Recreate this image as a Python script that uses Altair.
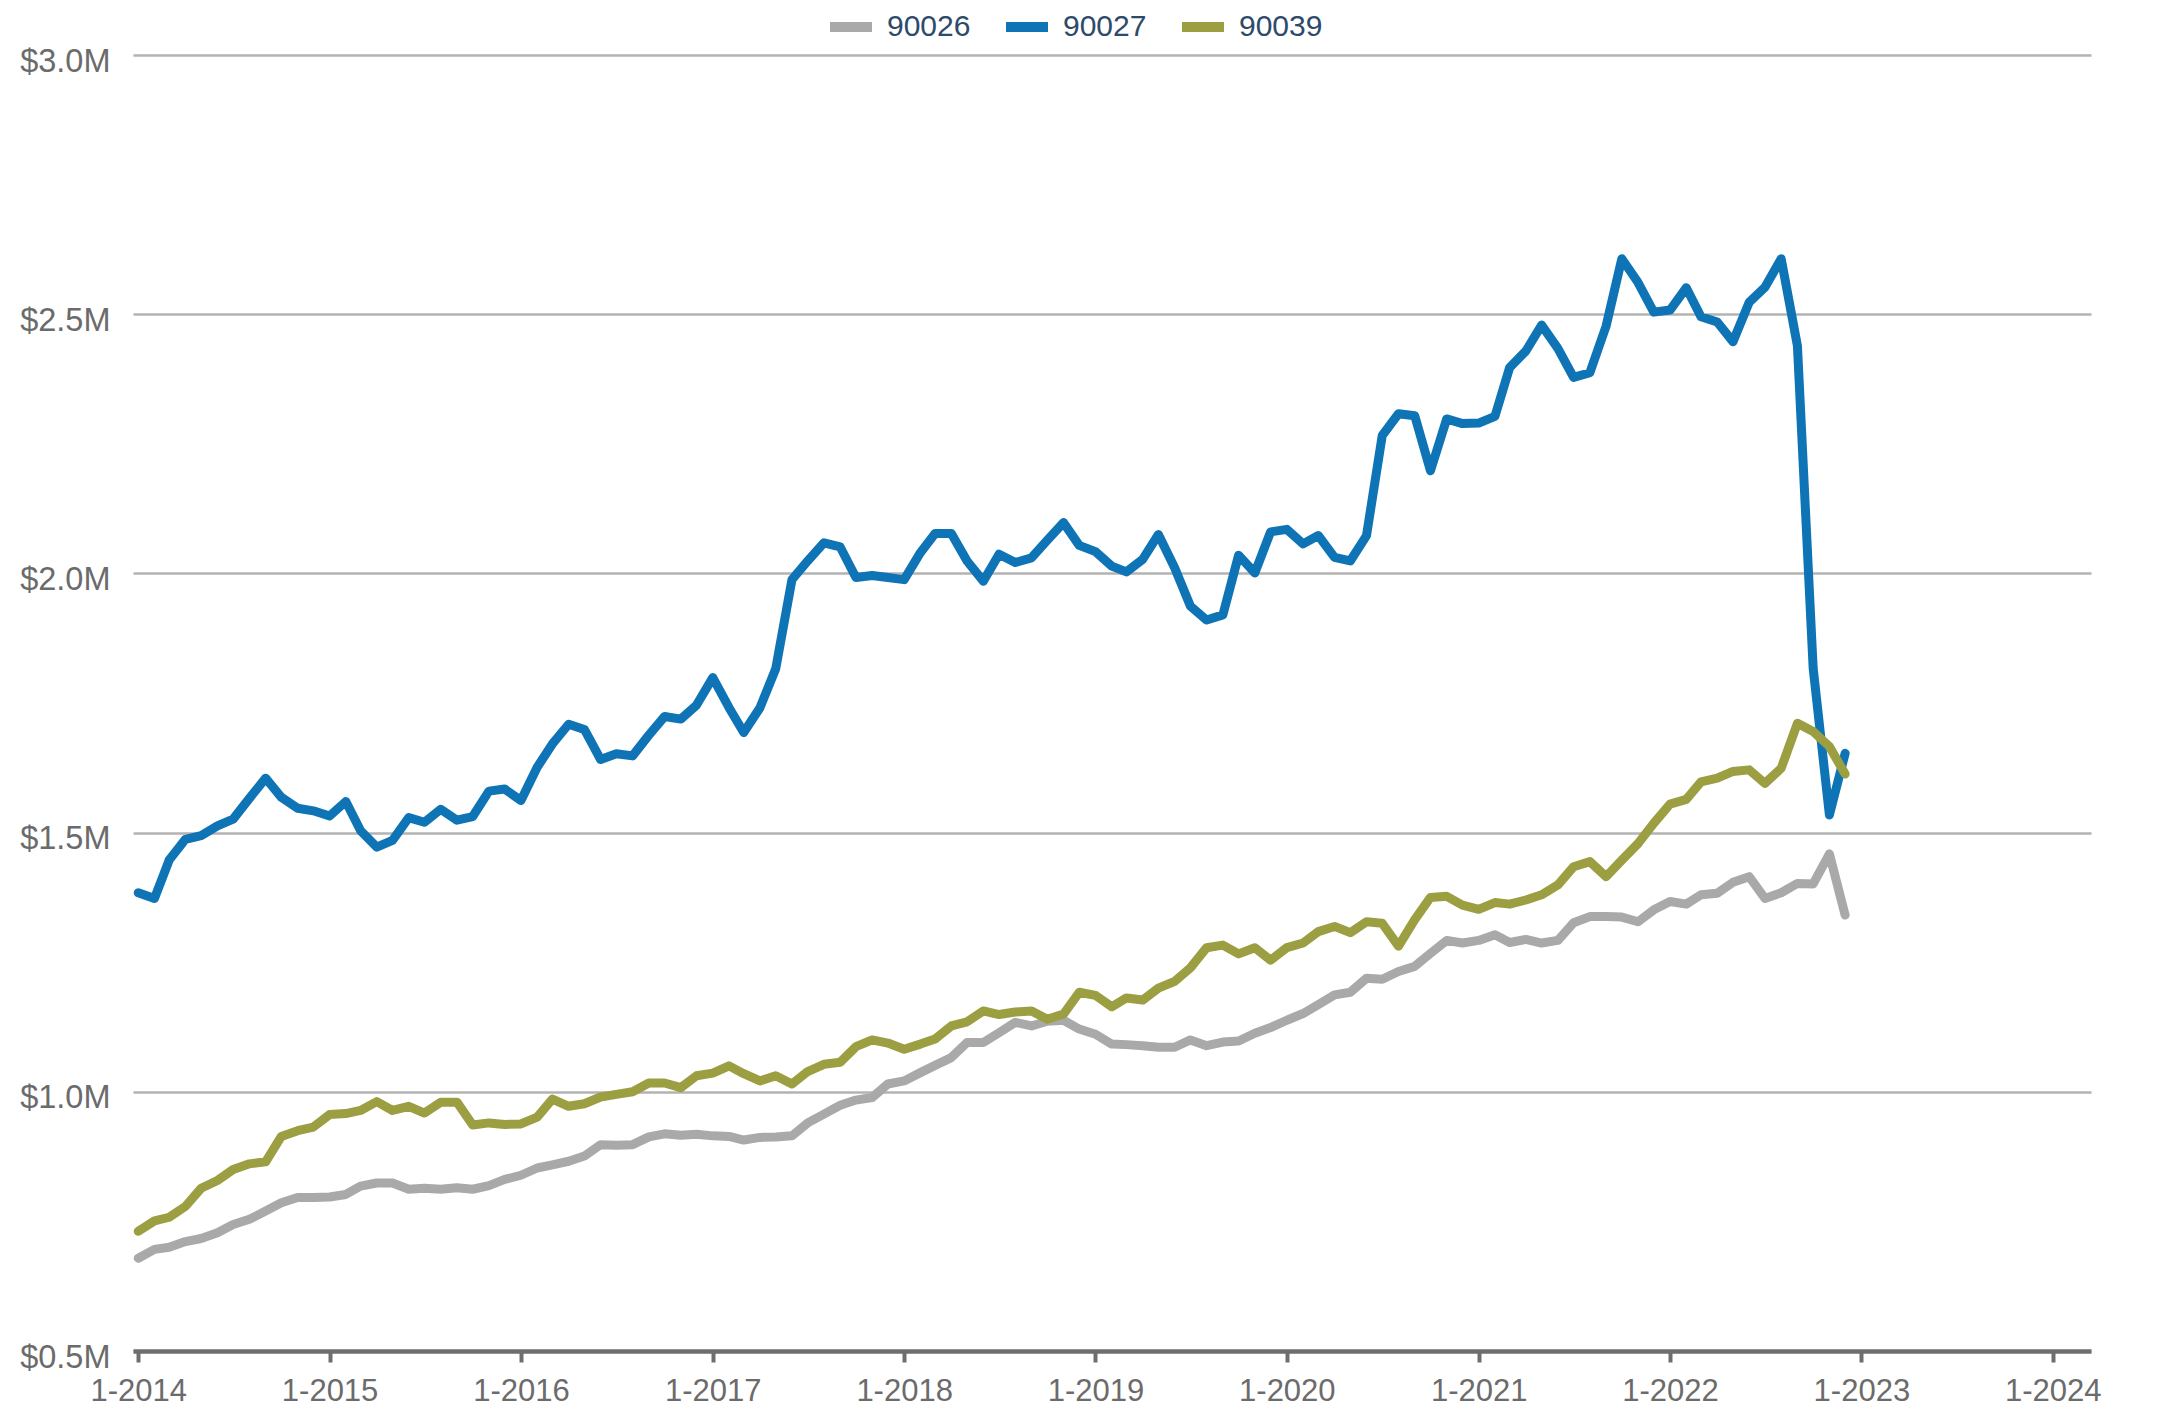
import altair as alt
import pandas as pd

zips = ["90026", "90027", "90039"]
colors = ["#a9a9a9", "#0e74b6", "#9c9e42"]

# Monthly values, $M, Jan 2014 .. Dec 2022
v90026 = [0.679, 0.696, 0.700, 0.711, 0.717, 0.728, 0.744, 0.754, 0.770, 0.786, 0.796, 0.796,
          0.797, 0.802, 0.818, 0.824, 0.824, 0.812, 0.814, 0.812, 0.815, 0.812, 0.819, 0.831,
          0.839, 0.853, 0.859, 0.866, 0.876, 0.898, 0.897, 0.898, 0.913, 0.919, 0.916, 0.918,
          0.915, 0.914, 0.907, 0.912, 0.913, 0.915, 0.940, 0.957, 0.974, 0.984, 0.989, 1.015,
          1.021, 1.037, 1.051, 1.066, 1.095, 1.095, 1.114, 1.134, 1.127, 1.136, 1.138, 1.121,
          1.111, 1.092, 1.091, 1.089, 1.086, 1.086, 1.100, 1.089, 1.096, 1.098, 1.113, 1.124,
          1.138, 1.151, 1.168, 1.187, 1.192, 1.219, 1.217, 1.232, 1.242, 1.267, 1.292, 1.287,
          1.292, 1.303, 1.288, 1.294, 1.287, 1.292, 1.326, 1.338, 1.338, 1.337, 1.328, 1.351,
          1.367, 1.362, 1.380, 1.383, 1.404, 1.415, 1.373, 1.384, 1.402, 1.401, 1.459, 1.341]

v90027 = [1.384, 1.373, 1.447, 1.487, 1.494, 1.513, 1.526, 1.566, 1.605, 1.568, 1.547, 1.542,
          1.532, 1.560, 1.504, 1.472, 1.485, 1.529, 1.520, 1.545, 1.524, 1.531, 1.580, 1.584,
          1.562, 1.626, 1.671, 1.709, 1.699, 1.641, 1.652, 1.648, 1.688, 1.724, 1.719, 1.746,
          1.799, 1.741, 1.693, 1.741, 1.816, 1.988, 2.024, 2.059, 2.051, 1.992, 1.996, 1.992,
          1.988, 2.040, 2.077, 2.077, 2.024, 1.985, 2.037, 2.021, 2.030, 2.064, 2.098, 2.054,
          2.042, 2.014, 2.003, 2.027, 2.075, 2.011, 1.937, 1.910, 1.920, 2.035, 2.001, 2.080,
          2.085, 2.057, 2.073, 2.031, 2.024, 2.073, 2.266, 2.308, 2.304, 2.198, 2.298, 2.289,
          2.290, 2.303, 2.397, 2.429, 2.479, 2.434, 2.378, 2.387, 2.477, 2.607, 2.561, 2.504,
          2.508, 2.551, 2.495, 2.485, 2.447, 2.523, 2.552, 2.607, 2.439, 1.817, 1.534, 1.653]

v90039 = [0.731, 0.751, 0.758, 0.779, 0.814, 0.829, 0.850, 0.861, 0.865, 0.914, 0.925, 0.932,
          0.956, 0.958, 0.964, 0.981, 0.964, 0.972, 0.959, 0.980, 0.980, 0.936, 0.940, 0.937,
          0.938, 0.951, 0.986, 0.972, 0.977, 0.990, 0.995, 1.000, 1.017, 1.017, 1.008, 1.031,
          1.036, 1.050, 1.035, 1.021, 1.031, 1.015, 1.039, 1.053, 1.057, 1.087, 1.100, 1.094,
          1.082, 1.092, 1.102, 1.127, 1.135, 1.156, 1.149, 1.154, 1.156, 1.140, 1.150, 1.192,
          1.186, 1.164, 1.181, 1.177, 1.200, 1.213, 1.239, 1.278, 1.283, 1.266, 1.278, 1.254,
          1.278, 1.287, 1.309, 1.319, 1.307, 1.328, 1.325, 1.281, 1.332, 1.375, 1.377, 1.360,
          1.352, 1.365, 1.362, 1.370, 1.380, 1.399, 1.434, 1.444, 1.415, 1.447, 1.479, 1.518,
          1.555, 1.564, 1.598, 1.605, 1.618, 1.621, 1.595, 1.624, 1.711, 1.695, 1.666, 1.613]

months = [d.strftime("%Y-%m-%dT00:00:00") for d in pd.date_range("2014-01-01", periods=108, freq="MS")]
year_ticks = list(range(2014, 2025))
y_ticks = [0.5, 1.0, 1.5, 2.0, 2.5, 3.0]

rows = []
for z, vals in zip(zips, [v90026, v90027, v90039]):
    for d, v in zip(months, vals):
        rows.append({"date": d, "zip": z, "value": v})
df = pd.DataFrame(rows)

FONT = "Liberation Sans, Arial, Helvetica, sans-serif"

chart = alt.Chart(df).mark_line(
    strokeWidth=9, strokeCap="round", strokeJoin="round"
).encode(
    x=alt.X(
        "date:T",
        scale=alt.Scale(domain=[alt.DateTime(year=2013, month=12, date=22),
                                alt.DateTime(year=2024, month=3, date=14)]),
        axis=alt.Axis(
            values=[alt.DateTime(year=y, month=1, date=1) for y in year_ticks],
            format="%-m-%Y", title=None, grid=False,
            domainColor="#6e6e6e", domainWidth=4.5,
            tickColor="#6e6e6e", tickWidth=4, tickSize=11,
            labelPadding=14, labelFontSize=31, labelColor="#6b6b6b",
            labelFlush=False, labelOverlap=False, labelBound=False, zindex=1,
        ),
    ),
    y=alt.Y(
        "value:Q",
        scale=alt.Scale(domain=[0.5, 3.0], nice=False, zero=False),
        axis=alt.Axis(
            values=y_ticks, title=None, domain=False, ticks=False,
            labelExpr="'$' + format(datum.value, '.1f') + 'M'",
            labelPadding=23, labelOffset=6, labelFontSize=32.5, labelColor="#6b6b6b",
            gridColor="#b3b3b3", gridWidth=2.5,
        ),
    ),
    color=alt.Color(
        "zip:N",
        scale=alt.Scale(domain=zips, range=colors),
        legend=alt.Legend(
            title=None, orient="none", direction="horizontal",
            legendX=692, legendY=-54,
            symbolType="stroke", symbolSize=1764, symbolStrokeWidth=10,
            labelFontSize=30, labelColor="#2d4a6b", labelOffset=10,
            columnPadding=15,
        ),
    ),
).properties(
    width=1958, height=1296,
    autosize=alt.AutoSizeParams(type="none"),
    padding={"left": 125, "top": 47, "right": 30, "bottom": 60},
).configure_axis(
    labelFont=FONT
).configure_legend(
    labelFont=FONT
).configure_view(
    stroke=None
)

chart.save("out.html", embed_options={"renderer": "svg", "actions": False})
